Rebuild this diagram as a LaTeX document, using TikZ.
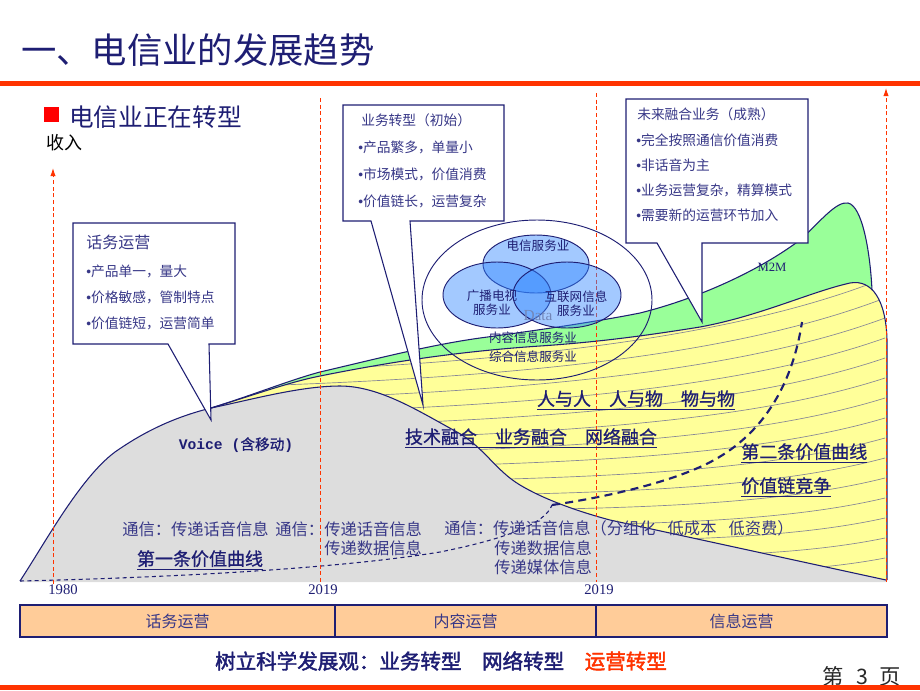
\documentclass[tikz,border=0pt]{standalone}
\usepackage{fontspec}
\setmainfont{Noto Sans CJK SC}
\newfontfamily\heavy[FakeBold=2]{Noto Sans CJK SC}
\newfontfamily\medium[FakeBold=0.8]{Noto Sans CJK SC}
\newfontfamily\serifnum{Liberation Serif}
\newfontfamily\monotext{Liberation Mono}
\newfontfamily\latinsans{Liberation Sans}
\newcommand{\itemdot}{{\latinsans •}}
\usetikzlibrary{arrows.meta}
\definecolor{navy}{RGB}{30,30,115}
\definecolor{ink}{RGB}{55,55,135}
\definecolor{alert}{RGB}{255,51,0}
\definecolor{peach}{RGB}{255,204,153}
\definecolor{voicegray}{RGB}{221,221,221}
\definecolor{pale}{RGB}{255,255,153}
\definecolor{mint}{RGB}{153,255,153}
\definecolor{sky}{RGB}{51,136,255}
\begin{document}
\begin{tikzpicture}[x=0.75pt, y=-0.75pt]
    \tikzstyle{every node}=[inner sep=0pt, text=ink]
    \tikzstyle{curve}=[draw=navy, line width=0.8pt]
    \tikzstyle{hatch}=[draw={rgb,255:red,135;green,135;blue,150}, line width=0.5pt]
    \tikzstyle{guide}=[draw=alert, line width=0.7pt, dash pattern=on 3pt off 2pt]
    \tikzstyle{callout}=[draw=navy, fill=white, line width=0.8pt]
    \tikzstyle{boxtext}=[anchor=west, font=\fontsize{10.3}{12}\selectfont]
    \tikzstyle{venntext}=[font=\fontsize{9.4}{10.5}\selectfont, text=navy, align=center]
    \tikzstyle{keyline}=[font=\medium\fontsize{13.5}{16}\selectfont, text=navy]
    \tikzstyle{msg}=[font=\fontsize{12.2}{14.6}\selectfont, align=left]
    \tikzstyle{year}=[font=\serifnum\fontsize{11}{13}\selectfont, text=navy]
    \tikzstyle{stage}=[font=\fontsize{12}{14}\selectfont]

    \useasboundingbox (0,0) rectangle (920,690);

    \node[font=\fontsize{26.5}{30}\selectfont, text=navy, anchor=west] (title) at (21,50) {一、电信业的发展趋势};
    \fill[alert] (0,81) rectangle (920,85.5);
    \fill[red] (44,107) rectangle (59,122);
    \node[anchor=west, font=\fontsize{18.5}{22}\selectfont, text=navy] (turn) at (69,117) {电信业正在转型};
    \node[anchor=west, font=\fontsize{13.5}{16}\selectfont, text=black] (income) at (46,143) {收入};

    \def\greentop{(211,408) .. controls (250,396) and (290,380) .. (320,372) .. controls (380,358) and (430,345) .. (480,338) .. controls (540,330) and (600,321) .. (640,313) .. controls (700,298) and (760,270) .. (800,240) .. controls (820,222) and (836,201) .. (848,203) .. controls (862,206) and (870,250) .. (872,290)}
    \def\yellowtop{(211,408) .. controls (260,393) and (290,382) .. (320,376) .. controls (380,364) and (450,352) .. (540,346) .. controls (600,342) and (650,335) .. (700,327) .. controls (760,316) and (810,292) .. (850,283) .. controls (872,279) and (886,300) .. (887,340) -- (887,580)}
    \def\voicetop{(20,581) .. controls (45,543) and (80,478) .. (115,452) .. controls (145,431) and (175,417) .. (211,408) .. controls (250,400) and (300,386) .. (340,386) .. controls (380,386) and (420,412) .. (457,432) .. controls (485,448) and (495,470) .. (520,485) .. controls (545,500) and (580,512) .. (610,520) -- (886,580)}

    \fill[mint] \greentop -- (872,580) -- (211,580) -- cycle;
    \fill[pale] \yellowtop -- (211,580) -- cycle;
    \begin{scope}
        \clip \yellowtop -- (211,580) -- cycle;
        \foreach \k in {-2,...,13}
            \draw[hatch] (280,{385+14*\k}) .. controls (550,{375+15*\k}) and (750,{350+18*\k}) .. (885,{298+20*\k});
    \end{scope}
    \fill[voicegray] \voicetop -- (886,582) -- (20,582) -- cycle;
    \draw[curve] \greentop;
    \draw[curve] \yellowtop;
    \draw[curve] \voicetop;

    \draw[navy, line width=0.8pt, dash pattern=on 3pt off 2.5pt] (20,581) .. controls (150,578) and (330,570) .. (440,552) .. controls (500,540) and (545,525) .. (552,505);
    \draw[navy, line width=1.6pt, dash pattern=on 6pt off 4pt] (552,505) .. controls (600,498) and (660,485) .. (700,467) .. controls (750,445) and (790,400) .. (802,322);

    \draw[guide, -{Latex[length=6pt, width=4pt]}] (53,584) -- (53,168);
    \draw[guide] (320,98) -- (320,582);
    \draw[guide] (596,93) -- (596,582);
    \draw[guide, -{Latex[length=6pt, width=4pt]}] (886,582) -- (886,88);

    \node[year] (y1980) at (63,590) {1980};
    \node[year] (y2019a) at (323,590) {2019};
    \node[year] (y2019b) at (599,590) {2019};

    \draw[navy, line width=0.7pt] (537,300) ellipse [x radius=115, y radius=80];
    \foreach \cx/\cy/\rx/\ry in {536/264/53/29, 497/295/54/33, 567/295/54/33}
        \filldraw[fill=sky, fill opacity=0.45, draw=navy, line width=0.7pt] (\cx,\cy) ellipse [x radius=\rx, y radius=\ry];
    \node[venntext] (tele) at (538,246) {电信服务业};
    \node[venntext] (tv) at (492,303) {广播电视\\服务业};
    \node[venntext] (net) at (576,304) {互联网信息\\服务业};
    \node[font=\serifnum\fontsize{11.5}{13}\selectfont, text={rgb,255:red,115;green,135;blue,185}] (data) at (538,316) {Data};
    \node[venntext] (content) at (533,338) {内容信息服务业};
    \node[venntext] (general) at (533,357) {综合信息服务业};
    \node[font=\serifnum\fontsize{9.5}{11}\selectfont, text=navy] (m2m) at (772,267) {M2M};

    \coordinate (tipA) at (211,420);
    \coordinate (tipB) at (423,405);
    \coordinate (tipC) at (702,322);
    \draw[callout] (73,223) -- (235,223) -- (235,344) -- (209,344) -- (tipA) -- (168,344) -- (73,344) -- cycle;
    \draw[callout] (343,105) -- (504,105) -- (504,221) -- (410,221) -- (tipB) -- (371,221) -- (343,221) -- cycle;
    \draw[callout] (626,99) -- (808,99) -- (808,243) -- (702,243) -- (tipC) -- (657,243) -- (626,243) -- cycle;

    \node[boxtext, font=\fontsize{12}{14}\selectfont] (talkhead) at (86,242) {话务运营};
    \foreach \t [count=\i from 0] in {产品单一，量大, 价格敏感，管制特点, 价值链短，运营简单}
        \node[boxtext] (talk\i) at (86,{271+26*\i}) {\itemdot\t};
    \node[boxtext] (shifthead) at (361,120) {业务转型（初始）};
    \foreach \t [count=\i from 0] in {产品繁多，单量小, 市场模式，价值消费, 价值链长，运营复杂}
        \node[boxtext] (shift\i) at (358,{147+27*\i}) {\itemdot\t};
    \node[boxtext] (futurehead) at (637,114) {未来融合业务（成熟）};
    \foreach \t [count=\i from 0] in {完全按照通信价值消费, 非话音为主, 业务运营复杂，精算模式, 需要新的运营环节加入}
        \node[boxtext] (future\i) at (636,{140+25*\i}) {\itemdot\t};

    \node[font=\medium\fontsize{11}{13}\selectfont, text=navy] (voice) at (236,445) {{\monotext\bfseries Voice (}含移动{\monotext\bfseries )}};
    \node[keyline] (pairs) at (636,400) {\underline{人与人　人与物　物与物}};
    \node[keyline] (fusion) at (531,438) {\underline{技术融合　业务融合　网络融合}};
    \node[keyline, anchor=west] (second) at (741,453) {\underline{第二条价值曲线}};
    \node[keyline, anchor=west] (chain) at (741,487) {\underline{价值链竞争}};
    \node[keyline] (first) at (200,560) {\underline{第一条价值曲线}};

    \node[msg, anchor=west] (voicemsg) at (122,529) {通信：传递话音信息};
    \node[msg, anchor=west] (datamsgA) at (275,529) {通信：};
    \node[msg, anchor=west] (datamsgB) at (324,539) {传递话音信息\\传递数据信息};
    \node[msg, anchor=west] (mediamsgA) at (444,528) {通信：传递话音信息（分组化\hspace{9pt}低成本\hspace{9pt}低资费）};
    \node[msg, anchor=west] (mediamsgB) at (494,558) {传递数据信息\\传递媒体信息};

    \foreach \a/\b/\t [count=\i] in {20/335/话务运营, 335/596/内容运营, 596/887/信息运营} {
        \draw[fill=peach, draw=navy, line width=0.8pt] (\a,605) rectangle (\b,637);
        \node[stage] (stage\i) at ({(\a+\b)/2},621) {\t};
    }

    \node[font=\heavy\fontsize{15.4}{18}\selectfont, text=navy] (motto) at (441,661) {树立科学发展观：业务转型　网络转型　\textcolor{alert}{运营转型}};
    \node[font=\fontsize{16}{18}\selectfont, text={rgb,255:red,40;green,40;blue,40}] (page) at (862,676) {第\hspace{9pt}3\hspace{9pt}页};
    \fill[alert] (0,685) rectangle (920,690);
\end{tikzpicture}
\end{document}
